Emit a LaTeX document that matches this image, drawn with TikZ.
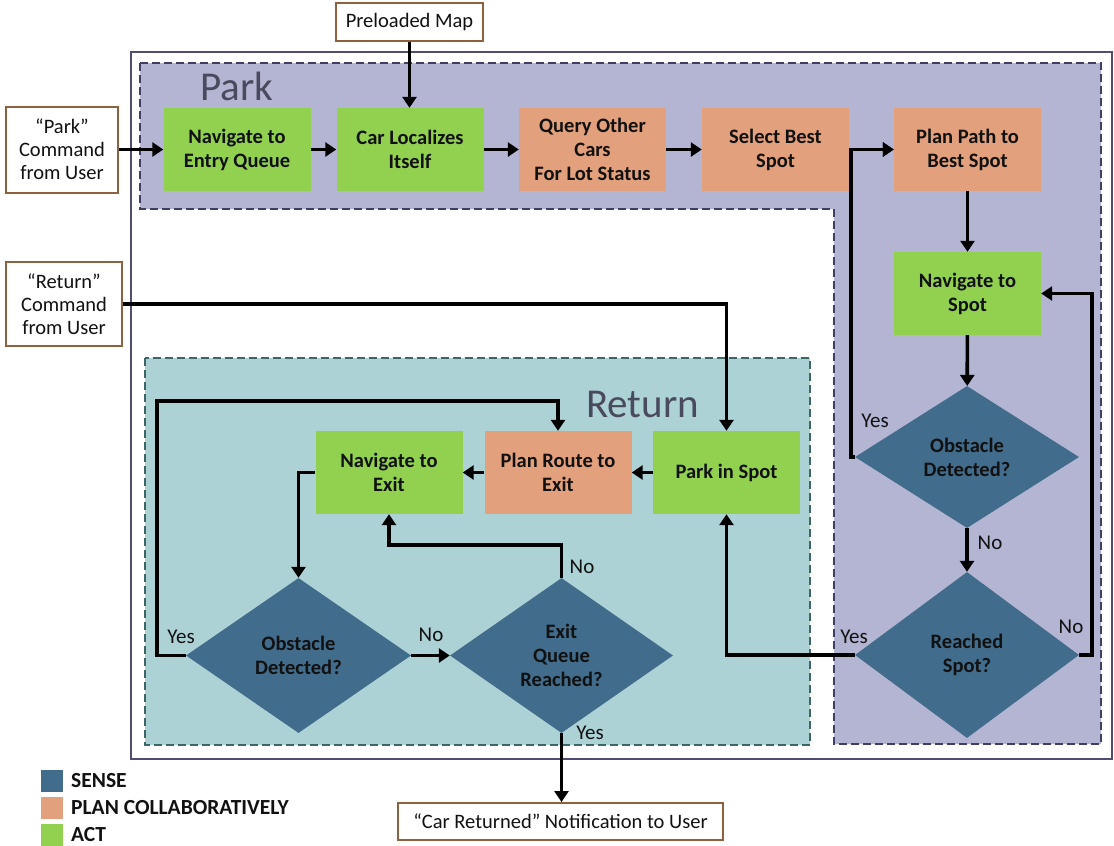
\documentclass[tikz,border=0pt]{standalone}
\usepackage{fontspec}
\setmainfont{Carlito}
\usetikzlibrary{arrows.meta,shapes.geometric}
\definecolor{act}{HTML}{92D050}
\definecolor{plan}{HTML}{E2A07C}
\definecolor{sense}{HTML}{416C8B}
\definecolor{parkbg}{HTML}{B4B4D3}
\definecolor{parkln}{HTML}{3F3F63}
\definecolor{retbg}{HTML}{ADD2D6}
\definecolor{retln}{HTML}{3D6767}
\definecolor{framec}{HTML}{4E4E74}
\definecolor{cmdln}{HTML}{8E613F}
\definecolor{titlec}{HTML}{4A4A5E}
\definecolor{inkc}{HTML}{111111}
\begin{document}
\begin{tikzpicture}[x=1pt,y=-1pt,
  stepbox/.style={rectangle, minimum width=147pt, minimum height=83pt, inner sep=0pt,
    align=center, text=inkc, font=\bfseries\fontsize{20.5}{24}\selectfont},
  actbox/.style={stepbox, fill=act},
  planbox/.style={stepbox, fill=plan},
  sensebox/.style={diamond, fill=sense, inner sep=0pt, align=center, text=inkc,
    font=\bfseries\fontsize{20.5}{24}\selectfont},
  cmdbox/.style={draw=cmdln, line width=2pt, fill=white, align=center, inner sep=0pt,
    text=inkc, font=\fontsize{20.5}{23}\selectfont},
  flow/.style={line width=3.6pt, -{Triangle[length=11pt,width=14pt]}, line join=miter},
  lbl/.style={font=\fontsize{21}{22}\selectfont, text=inkc, inner sep=0pt},
  title/.style={font=\fontsize{41}{41}\selectfont, text=titlec, inner sep=0pt, anchor=base west},
  legsq/.style={minimum width=22pt, minimum height=22pt, inner sep=0pt},
  legtxt/.style={font=\bfseries\fontsize{21.5}{22}\selectfont, text=inkc, anchor=west, inner sep=0pt},
  region/.style={line width=1.4pt, dash pattern=on 8pt off 4pt},
]
\useasboundingbox (0,0) rectangle (1114,846);

% outer frame and the two phase regions
\draw[framec, line width=2pt, fill=white] (131,52) rectangle (1112,759);
\draw[region, parkln, fill=parkbg]
  (140,63) -- (1101,63) -- (1101,744) -- (834,744) -- (834,209) -- (140,209) -- cycle;
\draw[region, retln, fill=retbg] (145,358) rectangle (810,745);
\node[title] (parkttl) at (200,100) {Park};
\node[title] (retttl) at (586,417) {Return};

% inputs and outputs
\node[cmdbox, minimum width=112pt, minimum height=86pt] (pcmd) at (62,149.5) {“Park”\\Command\\from User};
\node[cmdbox, minimum width=116pt, minimum height=84pt] (rcmd) at (64,304) {“Return”\\Command\\from User};
\node[cmdbox, minimum width=147pt, minimum height=38pt] (preload) at (409.5,22) {Preloaded Map};
\node[cmdbox, minimum width=325pt, minimum height=37pt] (returned) at (560.5,821.5) {“Car Returned” Notification to User};

% park phase
\node[actbox] (naventry) at (237,149.5) {Navigate to\\Entry Queue};
\node[actbox] (carloc) at (410,149.5) {Car Localizes\\Itself};
\node[planbox] (query) at (592.5,149.5) {Query Other\\Cars\\For Lot Status};
\node[planbox] (select) at (775.5,149.5) {Select Best\\Spot};
\node[planbox] (planpath) at (967.5,149.5) {Plan Path to\\Best Spot};
\node[actbox] (navspot) at (967.5,293.5) {Navigate to\\Spot};
\node[sensebox, minimum width=224pt, minimum height=142pt] (obsR) at (967,457) {Obstacle\\Detected?};
\node[sensebox, minimum width=224pt, minimum height=166pt] (reached) at (967,655) {Reached\\Spot?};

% return phase
\node[actbox] (parkspot) at (726.5,472.5) {Park in Spot};
\node[planbox] (planroute) at (558,472.5) {Plan Route to\\Exit};
\node[actbox] (navexit) at (389,472.5) {Navigate to\\Exit};
\node[sensebox, minimum width=225pt, minimum height=155pt] (obsL) at (298.5,655.5) {Obstacle\\Detected?};
\node[sensebox, minimum width=223pt, minimum height=155pt] (exitq) at (561.5,655.5) {Exit\\Queue\\Reached?};

% bend points
\coordinate (ryes) at (851,457);
\coordinate (rno) at (1092,655);
\coordinate (lyes1) at (157,655.5);
\coordinate (lyes2) at (157,401);
\coordinate (eqno) at (561.5,545);

% connectors
\draw[flow] (pcmd.east) -- (naventry.west);
\draw[flow] (preload.south) -- (preload.south |- carloc.north);
\draw[flow] (naventry) -- (carloc);
\draw[flow] (carloc) -- (query);
\draw[flow] (query) -- (select);
\draw[flow] (select) -- (planpath);
\draw[flow] (obsR.west) -- (ryes) |- (planpath.west);
\draw[flow] (planpath) -- (navspot);
\draw[flow] (navspot) -- (obsR);
\draw[flow] (obsR) -- (reached);
\draw[flow] (reached.east) -- (rno) |- (navspot.east);
\draw[flow] (reached.west) -| (parkspot.south);
\draw[flow] (rcmd.east) -| (parkspot.north);
\draw[flow] (parkspot) -- (planroute);
\draw[flow] (planroute) -- (navexit);
\draw[flow] (navexit.west) -| (obsL.north);
\draw[flow] (obsL.west) -- (lyes1) -- (lyes2) -| (planroute.north);
\draw[flow] (obsL.east) -- (exitq.west);
\draw[flow] (exitq.north) -- (eqno) -| (navexit.south);
\draw[flow] (exitq.south) -- (exitq.south |- returned.north);

% branch labels
\node[lbl] (l1) at (875,421) {Yes};
\node[lbl] (l2) at (990,543) {No};
\node[lbl] (l3) at (1071,627) {No};
\node[lbl] (l4) at (854,637) {Yes};
\node[lbl] (l5) at (181,637) {Yes};
\node[lbl] (l6) at (431,635) {No};
\node[lbl] (l7) at (582,567) {No};
\node[lbl] (l8) at (590,733) {Yes};

% legend
\node[legsq, fill=sense] (kS) at (52,781) {};
\node[legsq, fill=plan] (kP) at (52,807.5) {};
\node[legsq, fill=act] (kA) at (52,835) {};
\node[legtxt] (tS) at (71,781) {SENSE};
\node[legtxt] (tP) at (71,807.5) {PLAN COLLABORATIVELY};
\node[legtxt] (tA) at (71,835) {ACT};
\end{tikzpicture}
\end{document}
